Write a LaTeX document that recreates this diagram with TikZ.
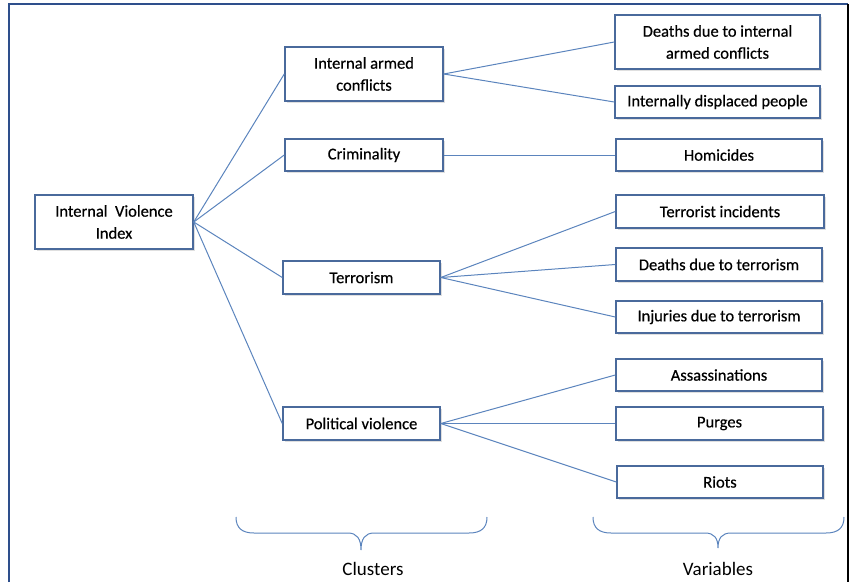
\documentclass[tikz,border=0pt]{standalone}
\usepackage{fontspec}
\setmainfont{Carlito}
\newfontfamily\semib[FakeBold=0.5]{Carlito}
\usetikzlibrary{shadows}
\definecolor{boxc}{HTML}{4A6A9C}
\definecolor{linec}{HTML}{5B84BD}
\definecolor{framec}{HTML}{2E4F8C}
\begin{document}
\begin{tikzpicture}[x=1pt,y=-1pt,
  box/.style={draw=boxc, line width=1.5pt, fill=white, rectangle, inner sep=0pt,
    align=center, font=\semib\fontsize{16.5}{22}\selectfont,
    drop shadow={shadow xshift=2pt, shadow yshift=-2pt, opacity=0.25}},
  conn/.style={draw=linec, line width=1pt},
  brc/.style={draw=linec, line width=1pt},
  lab/.style={font=\fontsize{19}{22}\selectfont, inner sep=0pt}]
\useasboundingbox (0,0) rectangle (852,582);
% frame
\draw[framec, line width=1.2pt] (9,582) -- (9,4) -- (848,4);
\draw[black, line width=2pt] (848,4) -- (848,582);
% index
\node[box, minimum width=158pt, minimum height=54pt] (ivi) at (114,222) {Internal\ \ Violence\\Index};
% clusters
\node[box, minimum width=158pt, minimum height=54pt] (iac) at (364,74) {Internal armed\\conflicts};
\node[box, minimum width=158pt, minimum height=32pt] (crim) at (364,155) {Criminality};
\node[box, minimum width=157pt, minimum height=33pt] (terr) at (361.5,277.5) {Terrorism};
\node[box, minimum width=157pt, minimum height=33pt] (polv) at (361.5,423.5) {Political violence};
% variables
\node[box, minimum width=205pt, minimum height=54pt] (v1) at (717.5,42) {Deaths due to internal\\armed conflicts};
\node[box, minimum width=205pt, minimum height=32pt] (v2) at (717.5,102) {Internally displaced people};
\node[box, minimum width=206pt, minimum height=32pt] (v3) at (719,155) {Homicides};
\node[box, minimum width=208pt, minimum height=33pt] (v4) at (720,211.5) {Terrorist incidents};
\node[box, minimum width=206pt, minimum height=33pt] (v5) at (719,264.5) {Deaths due to terrorism};
\node[box, minimum width=206pt, minimum height=32pt] (v6) at (719,317) {Injuries due to terrorism};
\node[box, minimum width=206pt, minimum height=32pt] (v7) at (719,375) {Assassinations};
\node[box, minimum width=207pt, minimum height=33pt] (v8) at (719.5,423.5) {Purges};
\node[box, minimum width=206pt, minimum height=32pt] (v9) at (720,482) {Riots};
% connectors
\foreach \c in {iac,crim,terr,polv} \draw[conn] (ivi.east) -- (\c.west);
\draw[conn] (iac.east) -- (v1.west);
\draw[conn] (iac.east) -- (v2.west);
\draw[conn] (crim.east) -- (v3.west);
\draw[conn] (terr.east) -- (v4.west);
\draw[conn] (terr.east) -- (v5.west);
\draw[conn] (terr.east) -- (v6.west);
\draw[conn] (polv.east) -- (v7.west);
\draw[conn] (polv.east) -- (v8.west);
\draw[conn] (polv.east) -- (v9.west);
% braces
\draw[brc] (236,517) .. controls (236,528) and (242,533) .. (254,533) -- (348,533)
  .. controls (357,533) and (361,539) .. (361,550)
  .. controls (361,539) and (365,533) .. (374,533) -- (469,533)
  .. controls (481,533) and (487,528) .. (487,517);
\draw[brc] (593,517) .. controls (593,528) and (599,533) .. (611,533) -- (705,533)
  .. controls (714,533) and (718,538) .. (718,548)
  .. controls (718,538) and (722,533) .. (731,533) -- (826,533)
  .. controls (838,533) and (844,528) .. (844,517);
\node[lab] (clus) at (373,569) {Clusters};
\node[lab] (vars) at (718,569) {Variables};
\end{tikzpicture}
\end{document}
